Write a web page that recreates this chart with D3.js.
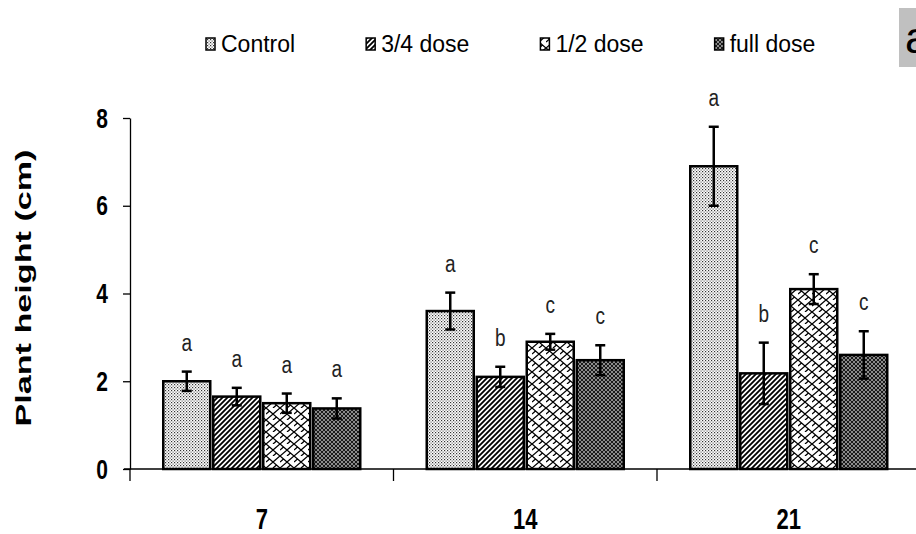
<!DOCTYPE html>
<html>
<head>
<meta charset="utf-8">
<script src="https://cdn.jsdelivr.net/npm/d3@7"></script>
<style>
  body { margin: 0; background: #fff; }
  text { font-family: "Liberation Sans", Arial, sans-serif; }
</style>
</head>
<body>
<div id="chart"></div>
<script>
// chart data
var days = ["7", "14", "21"];
var series = ["Control", "3/4 dose", "1/2 dose", "full dose"];
var controlVals = [2.0, 3.6, 6.9];
var threeQuarterVals = [1.65, 2.1, 2.18];
var halfVals = [1.5, 2.9, 4.1];
var fullVals = [1.38, 2.48, 2.6];
var controlErr = [0.22, 0.42, 0.9];
var threeQuarterErr = [0.2, 0.23, 0.7];
var halfErr = [0.22, 0.18, 0.34];
var fullErr = [0.23, 0.34, 0.54];
var controlLetters = ["a", "a", "a"];
var threeQuarterLetters = ["a", "b", "b"];
var halfLetters = ["a", "c", "c"];
var fullLetters = ["a", "c", "c"];
var yTicks = [0, 2, 4, 6, 8];

var values = [controlVals, threeQuarterVals, halfVals, fullVals];
var errors = [controlErr, threeQuarterErr, halfErr, fullErr];
var letters = [controlLetters, threeQuarterLetters, halfLetters, fullLetters];

var width = 916, height = 534;
var svg = d3.select("#chart").append("svg")
  .attr("width", width)
  .attr("height", height);

// fill patterns
var defs = svg.append("defs");
var patIds = ["pControl", "pThree", "pHalf", "pFull"];

var p0 = defs.append("pattern").attr("id", "pControl").attr("patternUnits", "userSpaceOnUse")
  .attr("width", 3).attr("height", 3);
p0.append("rect").attr("width", 3).attr("height", 3).attr("fill", "#fff");
p0.append("rect").attr("x", 0).attr("y", 0).attr("width", 1.2).attr("height", 1.2).attr("fill", "#333");
p0.append("rect").attr("x", 1.5).attr("y", 1.5).attr("width", 1.2).attr("height", 1.2).attr("fill", "#666");

var p1 = defs.append("pattern").attr("id", "pThree").attr("patternUnits", "userSpaceOnUse")
  .attr("width", 5).attr("height", 5);
p1.append("rect").attr("width", 5).attr("height", 5).attr("fill", "#fff");
p1.append("path").attr("d", "M-1,6 L6,-1 M-1,1 L1,-1 M4,6 L6,4")
  .attr("stroke", "#000").attr("stroke-width", 1.8);

var p2 = defs.append("pattern").attr("id", "pHalf").attr("patternUnits", "userSpaceOnUse")
  .attr("width", 14).attr("height", 12);
p2.append("rect").attr("width", 14).attr("height", 12).attr("fill", "#fff");
p2.append("path").attr("d", "M0,12 L7,6 L14,12 M0,0 L7,6 M7,6 L14,0 M3.5,3 L0,6 M10.5,9 L7,12")
  .attr("stroke", "#000").attr("stroke-width", 1.3).attr("fill", "none");

var p3 = defs.append("pattern").attr("id", "pFull").attr("patternUnits", "userSpaceOnUse")
  .attr("width", 4).attr("height", 4);
p3.append("rect").attr("width", 4).attr("height", 4).attr("fill", "#1a1a1a");
p3.append("path").attr("d", "M0,0 L4,4 M4,0 L0,4")
  .attr("stroke", "#bbb").attr("stroke-width", 0.7);

// scales
var x0 = d3.scaleBand().domain(days).range([130, 920.5]);
var groupW = 197;
var x1 = d3.scaleBand().domain(series).range([0, groupW]).paddingInner(0.06);
var y = d3.scaleLinear().domain([0, 8]).range([469, 118]);

var rows = [];
series.forEach(function(s, i) {
  days.forEach(function(d, j) {
    rows.push({ day: d, series: s, idx: i, v: values[i][j], e: errors[i][j], l: letters[i][j] });
  });
});
function barX(d) { return x0(d.day) + (x0.bandwidth() - groupW) / 2 + x1(d.series); }

// bars
svg.append("g").selectAll("rect")
  .data(rows).enter().append("rect")
  .attr("x", barX)
  .attr("y", function(d) { return y(d.v); })
  .attr("width", x1.bandwidth())
  .attr("height", function(d) { return y(0) - y(d.v); })
  .attr("fill", function(d) { return "url(#" + patIds[d.idx] + ")"; })
  .attr("stroke", "#000")
  .attr("stroke-width", 2.5);

// error bars
var eg = svg.append("g").attr("stroke", "#000").attr("stroke-width", 2.5);
rows.forEach(function(d) {
  var cx = barX(d) + x1.bandwidth() / 2;
  eg.append("line").attr("x1", cx).attr("x2", cx).attr("y1", y(d.v + d.e)).attr("y2", y(d.v - d.e));
  eg.append("line").attr("x1", cx - 5).attr("x2", cx + 5).attr("y1", y(d.v + d.e)).attr("y2", y(d.v + d.e));
  eg.append("line").attr("x1", cx - 5).attr("x2", cx + 5).attr("y1", y(d.v - d.e)).attr("y2", y(d.v - d.e));
});

// significance letters
svg.append("g").selectAll("text")
  .data(rows).enter().append("text")
  .attr("transform", function(d) {
    return "translate(" + (barX(d) + x1.bandwidth() / 2) + "," + (y(d.v + d.e) - 21) + ") scale(1,1.3)";
  })
  .attr("text-anchor", "middle")
  .style("font-size", "19px")
  .style("fill", "#222")
  .text(function(d) { return d.l; });

// y axis
var yAxis = svg.append("g")
  .attr("transform", "translate(130,0)")
  .call(d3.axisLeft(y).tickValues(yTicks).tickSize(7).tickSizeOuter(0).tickFormat(d3.format("d")));
yAxis.select(".domain").attr("stroke", "#000").attr("stroke-width", 1.3);
yAxis.selectAll(".tick line").attr("stroke", "#000").attr("stroke-width", 1.3);
yAxis.selectAll("text")
  .attr("x", -22)
  .attr("dy", "0.33em")
  .attr("transform", "scale(1,1.3)")
  .style("font-size", "21px")
  .style("font-weight", "bold")
  .style("fill", "#000")
  .style("font-family", "'Liberation Sans', Arial, sans-serif");

// x axis
svg.append("line")
  .attr("x1", 124).attr("x2", width)
  .attr("y1", y(0)).attr("y2", y(0))
  .attr("stroke", "#000").attr("stroke-width", 1.3);
var bounds = days.map(function(d) { return x0(d); }).concat([x0.range()[1]]);
svg.append("g").selectAll("line")
  .data(bounds).enter().append("line")
  .attr("x1", function(d) { return d; }).attr("x2", function(d) { return d; })
  .attr("y1", y(0)).attr("y2", y(0) + 12)
  .attr("stroke", "#000").attr("stroke-width", 1.3);

var xAxis = svg.append("g")
  .attr("transform", "translate(0," + y(0) + ")")
  .call(d3.axisBottom(x0).tickSize(0));
xAxis.select(".domain").remove();
xAxis.selectAll("text")
  .attr("y", 46)
  .attr("dy", 0)
  .attr("transform", "scale(1,1.3)")
  .style("font-size", "22px")
  .style("font-weight", "bold")
  .style("fill", "#000")
  .style("font-family", "'Liberation Sans', Arial, sans-serif");

// y axis title
svg.append("text")
  .attr("transform", "translate(31,288) rotate(-90)")
  .attr("text-anchor", "middle")
  .attr("textLength", 277)
  .attr("lengthAdjust", "spacingAndGlyphs")
  .style("font-size", "22px")
  .style("font-weight", "bold")
  .text("Plant height (cm)");

// legend
var lx = 206;
series.forEach(function(s, i) {
  svg.append("rect")
    .attr("x", lx).attr("y", 38).attr("width", 9).attr("height", 12)
    .attr("fill", "url(#" + patIds[i] + ")")
    .attr("stroke", "#000").attr("stroke-width", 1.5);
  var t = svg.append("text")
    .attr("x", lx + 15).attr("y", 52)
    .style("font-size", "23px")
    .text(s);
  lx += 15 + t.node().getComputedTextLength() + 71;
});

// panel tag
svg.append("rect")
  .attr("x", 899).attr("y", 8).attr("width", 20).attr("height", 59)
  .attr("fill", "#c0c0c0");
svg.append("text")
  .attr("x", 905).attr("y", 53)
  .style("font-size", "44px")
  .text("a");
</script>
</body>
</html>
